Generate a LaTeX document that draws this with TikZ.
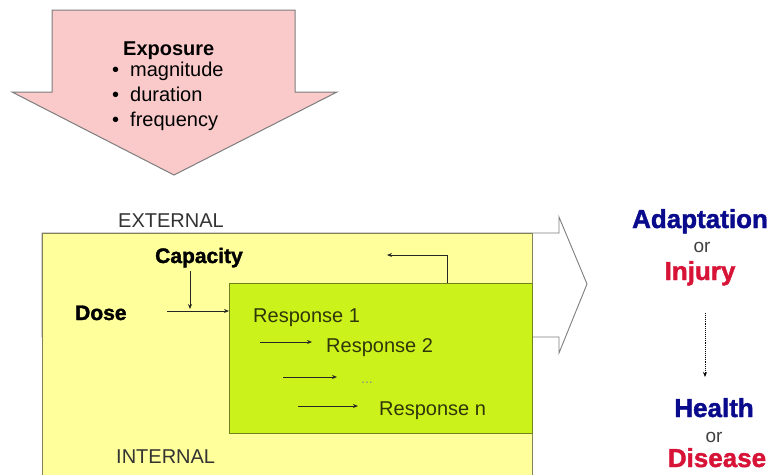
\documentclass[tikz,border=0pt]{standalone}
\usepackage{fontspec}
\setmainfont{Liberation Sans}
\newfontfamily\heavy{Liberation Sans}[BoldFeatures={FakeBold=1.6}]
\usetikzlibrary{arrows.meta}
\definecolor{pinkfill}{RGB}{250,202,202}
\definecolor{arrowgray}{RGB}{125,125,125}
\definecolor{yellowfill}{RGB}{255,255,155}
\definecolor{yellowline}{RGB}{130,130,90}
\definecolor{greenfill}{RGB}{204,242,28}
\definecolor{greenline}{RGB}{110,130,30}
\definecolor{resptext}{RGB}{45,55,10}
\definecolor{outblue}{RGB}{10,10,140}
\definecolor{outred}{RGB}{215,20,55}
\tikzset{
  reg/.style={inner sep=0pt, font=\fontsize{20}{24}\selectfont},
  bolder/.style={inner sep=0pt, font=\fontsize{21}{26}\selectfont\heavy\bfseries},
  resp/.style={reg, text=resptext},
  big/.style={inner sep=0pt, font=\fontsize{26}{32}\selectfont\heavy\bfseries},
  orword/.style={inner sep=0pt, font=\fontsize{19}{22}\selectfont, text=black!75},
  conn/.style={draw=black!85, line width=0.9pt, -{Stealth[length=5pt,width=4pt]}},
}
\begin{document}
\begin{tikzpicture}[x=1pt,y=-1pt]
\useasboundingbox (0,0) rectangle (775,474);
\clip (0,0) rectangle (775,474);
% down arrow
\draw[fill=pinkfill, draw=arrowgray, line width=1pt]
  (52,10) -- (295,10) -- (295,92) -- (337,92) -- (174,175) -- (12,92) -- (52,92) -- cycle;
\node[inner sep=0pt, font=\fontsize{20}{24}\selectfont\bfseries, anchor=base west] (expo) at (123,55) {Exposure};
\node[reg, anchor=base west] (b1) at (112,76) {•};
\node[reg, anchor=base west] (mag) at (130,76) {magnitude};
\node[reg, anchor=base west] (b2) at (112,101) {•};
\node[reg, anchor=base west] (dur) at (130,101) {duration};
\node[reg, anchor=base west] (b3) at (112,126) {•};
\node[reg, anchor=base west] (freq) at (130,126) {frequency};
% right outline arrow
\draw[fill=white, draw=arrowgray, line width=0.9pt]
  (42,233) -- (559,233) -- (559,217) -- (587,284) -- (559,353) -- (559,337) -- (42,337) -- cycle;
% yellow box
\draw[fill=yellowfill, draw=yellowline, line width=1pt] (42,233) rectangle (532,490);
\node[reg, anchor=base west, text=black!80] (ext) at (118,227) {EXTERNAL};
\node[reg, anchor=base west, text=black!80] (int) at (116,463) {INTERNAL};
% green box
\node[draw=greenline, fill=greenfill, line width=1pt, minimum width=303pt, minimum height=150pt, inner sep=0pt, anchor=north west] (green) at (229,283) {};
\node[bolder, anchor=base west] (cap) at (155,263) {Capacity};
\node[bolder, anchor=base west] (dose) at (75,320) {Dose};
\node[resp, anchor=base west] (r1) at (253,322) {Response 1};
\node[resp, anchor=base west] (r2) at (326,352) {Response 2};
\node[inner sep=0pt, font=\fontsize{14}{16}\selectfont, text=black!45, anchor=base west] (rdots) at (361,383) {...};
\node[resp, anchor=base west] (rn) at (379,415) {Response n};
% connectors
\coordinate (dstart) at (167,311);
\coordinate (cstart) at (190,271);
\coordinate (cjoin) at (190,309);
\coordinate (fbtop) at (447,255);
\coordinate (fbend) at (387,255);
\draw[conn] (dstart) -- (green.west |- dstart);
\draw[conn] (cstart) -- (cjoin);
\draw[conn] (green.north -| fbtop) -- (fbtop) -- (fbend);
\coordinate (a1s) at (260,342);
\coordinate (a1e) at (312,342);
\coordinate (a2s) at (283,377);
\coordinate (a2e) at (337,377);
\coordinate (a3s) at (298,406);
\coordinate (a3e) at (358,406);
\draw[conn] (a1s) -- (a1e);
\draw[conn] (a2s) -- (a2e);
\draw[conn] (a3s) -- (a3e);
% outcomes
\node[big, text=outblue, anchor=base] (adapt) at (700,228) {Adaptation};
\node[orword, anchor=base] (or1) at (702,252) {or};
\node[big, text=outred, anchor=base] (inj) at (700,280) {Injury};
\node[big, text=outblue, anchor=base] (health) at (714,417) {Health};
\node[orword, anchor=base] (or2) at (714,442) {or};
\node[big, text=outred, anchor=base] (dis) at (717,467) {Disease};
\coordinate (dotstart) at (705,313);
\coordinate (dotend) at (705,377);
\draw[densely dotted, line width=0.9pt, -{Stealth[length=5pt,width=4pt]}] (dotstart) -- (dotend);
\end{tikzpicture}
\end{document}
